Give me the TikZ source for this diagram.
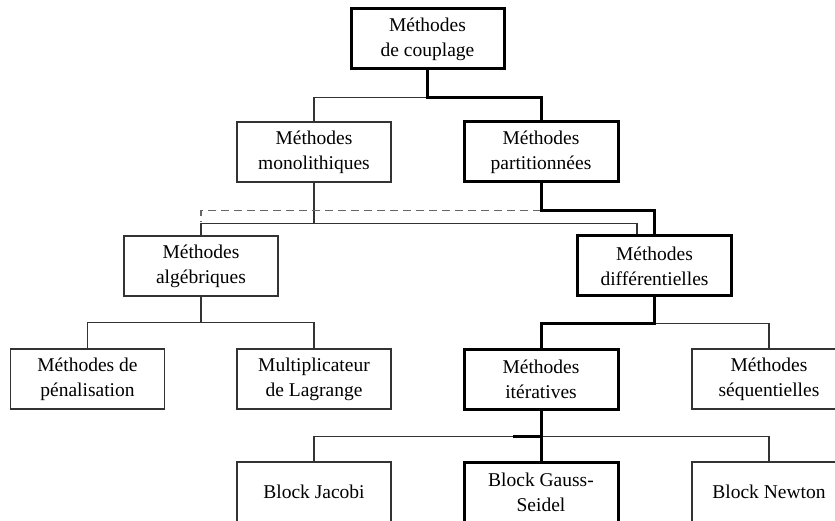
\documentclass[tikz,border=0pt]{standalone}
\usepackage{fontspec}
\setmainfont{Liberation Serif}
\usetikzlibrary{calc}
\begin{document}
\begin{tikzpicture}[x=1pt,y=-1pt,
  box/.style={draw=black!80, line width=1.3pt, minimum width=154pt, minimum height=60pt,
    align=center, inner sep=0pt, font=\fontsize{19.5}{25}\selectfont},
  keybox/.style={box, draw=black, line width=3pt},
  link/.style={draw=black!80, line width=1.3pt},
  keylink/.style={draw=black, line width=3pt},
  altlink/.style={draw=black!60, line width=1.3pt, dash pattern=on 8pt off 5pt}]
\useasboundingbox (0,0) rectangle (835,521);
\clip (0,0) rectangle (835,521);

% boxes
\node[keybox, minimum width=153pt] (coup) at (427.5,39) {Méthodes\\de couplage};
\node[box]    (mono) at (314,152)   {Méthodes\\monolithiques};
\node[keybox] (part) at (541,152)   {Méthodes\\partitionnées};
\node[box]    (alg)  at (201,266)   {Méthodes\\algébriques};
\node[keybox] (diff) at (654.5,266) {Méthodes\\différentielles};
\node[box]    (pen)  at (87.5,379)  {Méthodes de\\pénalisation};
\node[box]    (lag)  at (314,379)   {Multiplicateur\\de Lagrange};
\node[keybox] (iter) at (541,379)   {Méthodes\\itératives};
\node[box]    (seq)  at (769,379)   {Méthodes\\séquentielles};
\node[box]    (jac)  at (314,492)   {Block Jacobi};
\node[keybox] (gs)   at (541,492)   {Block Gauss-\\Seidel};
\node[box]    (newt) at (769,492)   {Block Newton};

% thin branches
\draw[link] (coup.south) -- ++(0,27) -| (mono.north);
\draw[link] (mono.south) -- ++(0,41) coordinate (mj);
\draw[link] (alg.north) |- (mj) -| ($(diff.north)+(-17.5,0)$);
\draw[link] (alg.south) -- ++(0,26) coordinate (aj);
\draw[link] (pen.north) |- (aj) -| (lag.north);
\draw[link] (diff.south) -- ++(0,26) -| (seq.north);
\draw[link] (jac.north) |- ($(iter.south)+(0,26)$) -| (newt.north);

% dashed branch
\draw[altlink] (part.south) ++(0,27) -| ($(alg.north)+(0,-13)$);

% highlighted path
\draw[keylink] (coup.south) -- ++(0,27) -| (part.north);
\draw[keylink] (part.south) -- ++(0,27) -| (diff.north);
\draw[keylink] (diff.south) -- ++(0,26) -| (iter.north);
\draw[keylink] (iter.south) -- (gs.north);
\draw[keylink] ($(iter.south)+(-28,26)$) -- ++(28,0);
\end{tikzpicture}
\end{document}
